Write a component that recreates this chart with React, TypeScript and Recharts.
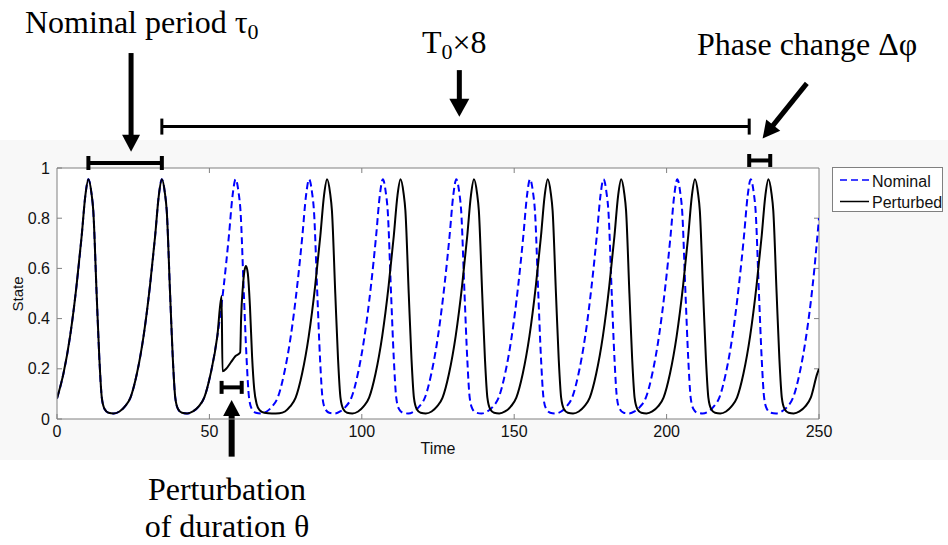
import React from 'react';
import { LineChart, Line, XAxis, YAxis, CartesianGrid, ReferenceLine, Legend } from 'recharts';

// Time axis ticks and state axis ticks
const xTicks = [0, 50, 100, 150, 200, 250];
const yTicks = [0, 0.2, 0.4, 0.6, 0.8, 1];

// Nominal oscillator (blue dashed), one cycle per row
const nominalTime = [
  0, 2.1, 4.3, 6.4, 8.1, 9.3, 10.3, 11.3, 11.9, 13.0, 13.9, 14.7, 15.6, 16.9, 18.6, 20.5,
  22.3, 24.1, 26.2, 28.4, 30.5, 32.2, 33.4, 34.4, 35.4, 36.0, 37.1, 38.0, 38.8, 39.7, 41.0, 42.7, 44.6,
  46.5, 48.3, 50.4, 52.6, 54.7, 56.4, 57.6, 58.6, 59.6, 60.2, 61.3, 62.2, 63.0, 63.9, 65.2, 66.9, 68.8,
  70.6, 72.4, 74.5, 76.7, 78.8, 80.5, 81.7, 82.7, 83.7, 84.3, 85.4, 86.3, 87.1, 88.0, 89.3, 91.0, 92.9,
  94.8, 96.6, 98.7, 100.9, 103.0, 104.7, 105.9, 106.9, 107.9, 108.5, 109.6, 110.5, 111.3, 112.2, 113.5, 115.2, 117.1,
  118.9, 120.7, 122.8, 125.0, 127.1, 128.8, 130.0, 131.0, 132.0, 132.6, 133.7, 134.6, 135.4, 136.3, 137.6, 139.3, 141.2,
  143.1, 144.9, 147.0, 149.2, 151.3, 153.0, 154.2, 155.2, 156.2, 156.8, 157.9, 158.8, 159.6, 160.5, 161.8, 163.5, 165.4,
  167.2, 169.0, 171.1, 173.3, 175.4, 177.1, 178.3, 179.3, 180.3, 180.9, 182.0, 182.9, 183.7, 184.6, 185.9, 187.6, 189.5,
  191.4, 193.2, 195.3, 197.5, 199.6, 201.3, 202.5, 203.5, 204.5, 205.1, 206.2, 207.1, 207.9, 208.8, 210.1, 211.8, 213.7,
  215.5, 217.3, 219.4, 221.6, 223.7, 225.4, 226.6, 227.6, 228.6, 229.2, 230.3, 231.2, 232.0, 232.9, 234.2, 235.9, 237.8,
  239.7, 241.5, 243.6, 245.8, 247.9, 250.0,
];
const nominalState = [
  0.082, 0.18, 0.33, 0.53, 0.73, 0.89, 0.955, 0.9, 0.83, 0.5, 0.24, 0.085, 0.04, 0.025, 0.022, 0.03,
  0.05, 0.085, 0.18, 0.33, 0.53, 0.73, 0.89, 0.955, 0.9, 0.83, 0.5, 0.24, 0.085, 0.04, 0.025, 0.022, 0.03,
  0.05, 0.085, 0.18, 0.33, 0.53, 0.73, 0.89, 0.955, 0.9, 0.83, 0.5, 0.24, 0.085, 0.04, 0.025, 0.022, 0.03,
  0.05, 0.085, 0.18, 0.33, 0.53, 0.73, 0.89, 0.955, 0.9, 0.83, 0.5, 0.24, 0.085, 0.04, 0.025, 0.022, 0.03,
  0.05, 0.085, 0.18, 0.33, 0.53, 0.73, 0.89, 0.955, 0.9, 0.83, 0.5, 0.24, 0.085, 0.04, 0.025, 0.022, 0.03,
  0.05, 0.085, 0.18, 0.33, 0.53, 0.73, 0.89, 0.955, 0.9, 0.83, 0.5, 0.24, 0.085, 0.04, 0.025, 0.022, 0.03,
  0.05, 0.085, 0.18, 0.33, 0.53, 0.73, 0.89, 0.955, 0.9, 0.83, 0.5, 0.24, 0.085, 0.04, 0.025, 0.022, 0.03,
  0.05, 0.085, 0.18, 0.33, 0.53, 0.73, 0.89, 0.955, 0.9, 0.83, 0.5, 0.24, 0.085, 0.04, 0.025, 0.022, 0.03,
  0.05, 0.085, 0.18, 0.33, 0.53, 0.73, 0.89, 0.955, 0.9, 0.83, 0.5, 0.24, 0.085, 0.04, 0.025, 0.022, 0.03,
  0.05, 0.085, 0.18, 0.33, 0.53, 0.73, 0.89, 0.955, 0.9, 0.83, 0.5, 0.24, 0.085, 0.04, 0.025, 0.022, 0.03,
  0.05, 0.085, 0.18, 0.33, 0.53, 0.8,
];

// Perturbed oscillator (black solid): kick at t~54, then phase-delayed cycles
const perturbedTime = [
  0, 2.1, 4.3, 6.4, 8.1, 9.3, 10.3, 11.3, 11.9, 13.0, 13.9, 14.7, 15.6, 16.9, 18.6, 20.5,
  22.3, 24.1, 26.2, 28.4, 30.5, 32.2, 33.4, 34.4, 35.4, 36.0, 37.1, 38.0, 38.8, 39.7, 41.0, 42.7, 44.6,
  46.5, 48.3, 50.4, 52.6, 54.0, 54.3, 55.5, 57.0, 58.5, 60.1, 60.4, 61.0, 61.5, 62.0, 62.6, 63.3, 64.0, 64.7, 65.5, 66.5, 68.0, 70.5, 73.0, 74.8,
  76.5, 78.3, 80.4, 82.6, 84.7, 86.4, 87.6, 88.6, 89.6, 90.2, 91.3, 92.2, 93.0, 93.9, 95.2, 96.9, 98.8,
  100.6, 102.4, 104.5, 106.7, 108.8, 110.5, 111.7, 112.7, 113.7, 114.3, 115.4, 116.3, 117.1, 118.0, 119.3, 121.0, 122.9,
  124.7, 126.5, 128.6, 130.8, 132.9, 134.6, 135.8, 136.8, 137.8, 138.4, 139.5, 140.4, 141.2, 142.1, 143.4, 145.1, 147.0,
  148.9, 150.7, 152.8, 155.0, 157.1, 158.8, 160.0, 161.0, 162.0, 162.6, 163.7, 164.6, 165.4, 166.3, 167.6, 169.3, 171.2,
  173.0, 174.8, 176.9, 179.1, 181.2, 182.9, 184.1, 185.1, 186.1, 186.7, 187.8, 188.7, 189.5, 190.4, 191.7, 193.4, 195.3,
  197.2, 199.0, 201.1, 203.3, 205.4, 207.1, 208.3, 209.3, 210.3, 210.9, 212.0, 212.9, 213.7, 214.6, 215.9, 217.6, 219.5,
  221.3, 223.1, 225.2, 227.4, 229.5, 231.2, 232.4, 233.4, 234.4, 235.0, 236.1, 237.0, 237.8, 238.7, 240.0, 241.7, 243.6,
  245.5, 247.3, 249.4, 250.0,
];
const perturbedState = [
  0.082, 0.18, 0.33, 0.53, 0.73, 0.89, 0.955, 0.9, 0.83, 0.5, 0.24, 0.085, 0.04, 0.025, 0.022, 0.03,
  0.05, 0.085, 0.18, 0.33, 0.53, 0.73, 0.89, 0.955, 0.9, 0.83, 0.5, 0.24, 0.085, 0.04, 0.025, 0.022, 0.03,
  0.05, 0.085, 0.18, 0.33, 0.49, 0.19, 0.2, 0.225, 0.25, 0.265, 0.4, 0.53, 0.59, 0.61, 0.58, 0.45, 0.25, 0.12, 0.06, 0.035, 0.025, 0.022, 0.023, 0.03,
  0.05, 0.085, 0.18, 0.33, 0.53, 0.73, 0.89, 0.955, 0.9, 0.83, 0.5, 0.24, 0.085, 0.04, 0.025, 0.022, 0.03,
  0.05, 0.085, 0.18, 0.33, 0.53, 0.73, 0.89, 0.955, 0.9, 0.83, 0.5, 0.24, 0.085, 0.04, 0.025, 0.022, 0.03,
  0.05, 0.085, 0.18, 0.33, 0.53, 0.73, 0.89, 0.955, 0.9, 0.83, 0.5, 0.24, 0.085, 0.04, 0.025, 0.022, 0.03,
  0.05, 0.085, 0.18, 0.33, 0.53, 0.73, 0.89, 0.955, 0.9, 0.83, 0.5, 0.24, 0.085, 0.04, 0.025, 0.022, 0.03,
  0.05, 0.085, 0.18, 0.33, 0.53, 0.73, 0.89, 0.955, 0.9, 0.83, 0.5, 0.24, 0.085, 0.04, 0.025, 0.022, 0.03,
  0.05, 0.085, 0.18, 0.33, 0.53, 0.73, 0.89, 0.955, 0.9, 0.83, 0.5, 0.24, 0.085, 0.04, 0.025, 0.022, 0.03,
  0.05, 0.085, 0.18, 0.33, 0.53, 0.73, 0.89, 0.955, 0.9, 0.83, 0.5, 0.24, 0.085, 0.04, 0.025, 0.022, 0.03,
  0.05, 0.085, 0.18, 0.2,
];

// annotation geometry in data units (time, state)
const bracketMarks = [
  { from: 10.3, to: 34.4, at: 1.02, cap: 7, w: 4 },
  { from: 34.4, to: 227.1, at: 1.165, cap: 8, w: 3 },
  { from: 227.1, to: 234.0, at: 1.03, cap: 6.5, w: 4 },
  { from: 54.0, to: 60.6, at: 0.126, cap: 6.5, w: 4 },
];
const arrowMarks = [
  { x1: 24.3, y1: 1.458, x2: 24.3, y2: 1.065, head: 17, width: 18, shaft: 5 },
  { x1: 132, y1: 1.39, x2: 132, y2: 1.204, head: 18, width: 20, shaft: 5 },
  { x1: 246, y1: 1.337, x2: 231.5, y2: 1.118, head: 17, width: 18, shaft: 5 },
  { x1: 57.3, y1: -0.15, x2: 57.3, y2: 0.076, head: 16, width: 17, shaft: 6 },
];

const nominalData = nominalTime.map((t, i) => ({ t, v: nominalState[i] }));
const perturbedData = perturbedTime.map((t, i) => ({ t, v: perturbedState[i] }));

const AXIS = '#808080';
const SANS = '"Liberation Sans", Arial, sans-serif';
const SERIF = '"Liberation Serif", "Times New Roman", serif';

const bracketShape = (cap: number, w: number) => (p: any) => (
  <g>
    <line x1={p.x1} y1={p.y1} x2={p.x2} y2={p.y2} stroke="#000" strokeWidth={w} />
    <line x1={p.x1} y1={p.y1 - cap} x2={p.x1} y2={p.y1 + cap} stroke="#000" strokeWidth={w} />
    <line x1={p.x2} y1={p.y2 - cap} x2={p.x2} y2={p.y2 + cap} stroke="#000" strokeWidth={w} />
  </g>
);

const arrowShape = (head: number, width: number, shaft: number) => (p: any) => {
  const dx = p.x2 - p.x1;
  const dy = p.y2 - p.y1;
  const len = Math.hypot(dx, dy) || 1;
  const ux = dx / len;
  const uy = dy / len;
  const bx = p.x2 - ux * head;
  const by = p.y2 - uy * head;
  const h = width / 2;
  return (
    <g>
      <line x1={p.x1} y1={p.y1} x2={bx + ux} y2={by + uy} stroke="#000" strokeWidth={shaft} />
      <polygon
        points={`${p.x2},${p.y2} ${bx - uy * h},${by + ux * h} ${bx + uy * h},${by - ux * h}`}
        fill="#000"
      />
    </g>
  );
};

const renderLegend = () => (
  <svg width={111} height={45} style={{ display: 'block' }}>
    <rect x={0.5} y={0.5} width={110} height={44} fill="#fff" stroke={AXIS} />
    <line x1={8} y1={13} x2={37} y2={13} stroke="#0000ff" strokeWidth={1.5} strokeDasharray="7 4" />
    <text x={40} y={19.5} fontSize={16} fontFamily={SANS} fill="#111">Nominal</text>
    <line x1={8} y1={34.5} x2={37} y2={34.5} stroke="#000" strokeWidth={1.5} />
    <text x={40} y={40.5} fontSize={16} fontFamily={SANS} fill="#111">Perturbed</text>
  </svg>
);

const App: React.FC = () => {
  return (
    <div style={{ position: 'absolute', left: 0, top: 0, width: 948, height: 545, background: '#fff' }}>
      <div style={{ position: 'absolute', left: 0, top: 140, width: 948, height: 320, background: '#f8f8f8' }} />
      <div style={{ position: 'absolute', left: 0, top: 0 }}>
        <LineChart width={948} height={545} margin={{ top: 168, right: 129, bottom: 86, left: 17 }}>
          <CartesianGrid horizontal={false} vertical={false} fill="#fff" />
          <XAxis
            dataKey="t"
            type="number"
            domain={[0, 250]}
            ticks={xTicks}
            interval={0}
            height={40}
            stroke={AXIS}
            tickSize={-5}
            tickMargin={12}
            tick={{ fill: '#111', fontSize: 16, fontFamily: SANS }}
            allowDataOverflow
          />
          <YAxis
            type="number"
            domain={[0, 1]}
            ticks={yTicks}
            interval={0}
            width={40}
            stroke={AXIS}
            tickSize={-5}
            tickMargin={12}
            tick={{ fill: '#111', fontSize: 16, fontFamily: SANS }}
            allowDataOverflow
          />
          {/* top and right frame with inward ticks */}
          <ReferenceLine y={1} stroke={AXIS} ifOverflow="visible" />
          <ReferenceLine x={250} stroke={AXIS} ifOverflow="visible" />
          {xTicks.slice(1, -1).map((t) => (
            <ReferenceLine key={`tx${t}`} segment={[{ x: t, y: 1 }, { x: t, y: 0.98 }]} stroke={AXIS} ifOverflow="visible" />
          ))}
          {yTicks.slice(1, -1).map((v) => (
            <ReferenceLine key={`ty${v}`} segment={[{ x: 250, y: v }, { x: 248.36, y: v }]} stroke={AXIS} ifOverflow="visible" />
          ))}
          <Line
            data={nominalData}
            dataKey="v"
            name="Nominal"
            type="monotone"
            stroke="#0000ff"
            strokeWidth={2}
            strokeDasharray="7 4"
            dot={false}
            activeDot={false}
            isAnimationActive={false}
          />
          <Line
            data={perturbedData}
            dataKey="v"
            name="Perturbed"
            type="monotone"
            stroke="#000"
            strokeWidth={2}
            dot={false}
            activeDot={false}
            isAnimationActive={false}
          />
          {bracketMarks.map((b, i) => (
            <ReferenceLine
              key={`b${i}`}
              segment={[{ x: b.from, y: b.at }, { x: b.to, y: b.at }]}
              ifOverflow="visible"
              shape={bracketShape(b.cap, b.w)}
            />
          ))}
          {arrowMarks.map((a, i) => (
            <ReferenceLine
              key={`a${i}`}
              segment={[{ x: a.x1, y: a.y1 }, { x: a.x2, y: a.y2 }]}
              ifOverflow="visible"
              shape={arrowShape(a.head, a.width, a.shaft)}
            />
          ))}
          <Legend
            layout="vertical"
            align="center"
            verticalAlign="middle"
            content={renderLegend}
            wrapperStyle={{ position: 'absolute', left: 832, top: 167, width: 111, height: 45 }}
          />
        </LineChart>
      </div>
      <svg
        width={948}
        height={545}
        style={{ position: 'absolute', left: 0, top: 0, pointerEvents: 'none' }}
      >
        <text x={23} y={294} fontSize={15} fontFamily={SANS} fill="#111" textAnchor="middle" transform="rotate(-90 23 294)">
          State
        </text>
        <text x={438} y={454} fontSize={16} fontFamily={SANS} fill="#111" textAnchor="middle">
          Time
        </text>
        <text x={25} y={33} fontSize={32} fontFamily={SERIF} fill="#000">
          Nominal period τ<tspan fontSize={22} dy={6}>0</tspan>
        </text>
        <text x={422} y={53} fontSize={32} fontFamily={SERIF} fill="#000">
          T<tspan fontSize={22} dy={6}>0</tspan>
          <tspan dy={-6}>×8</tspan>
        </text>
        <text x={697} y={55} fontSize={32} fontFamily={SERIF} fill="#000">
          Phase change Δφ
        </text>
        <text x={227} y={500} fontSize={32} fontFamily={SERIF} fill="#000" textAnchor="middle">
          Perturbation
        </text>
        <text x={227} y={537} fontSize={32} fontFamily={SERIF} fill="#000" textAnchor="middle">
          of duration θ
        </text>
      </svg>
    </div>
  );
};

export default App;
